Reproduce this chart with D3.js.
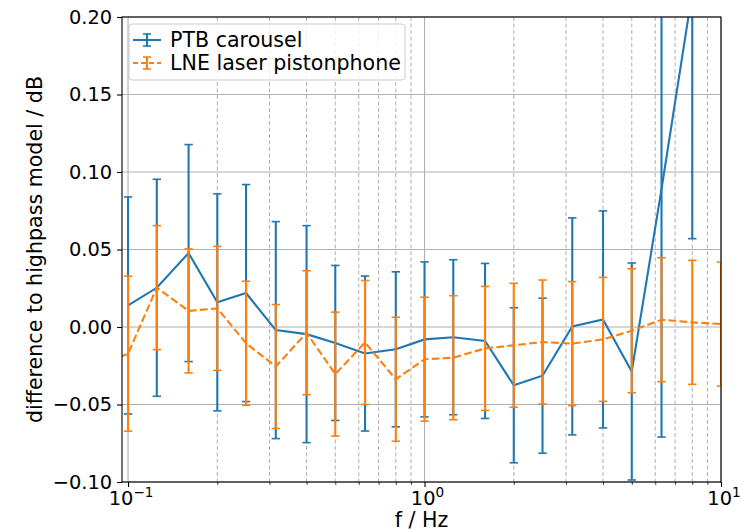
<!doctype html>
<html lang="en">
<head>
  <meta charset="utf-8">
  <script src="https://cdnjs.cloudflare.com/ajax/libs/d3/7.8.5/d3.min.js"></script>
  <style>
    html, body{margin:0px; padding:0px; background:#fff;}
    svg{font-family:"DejaVu Sans", sans-serif;}
  </style>
</head>
<body>
<div id="view"></div>
<script>
// frequencies in Hz (third octaves)
var ptbFreqs  = [0.1,0.125,0.16,0.2,0.25,0.315,0.4,0.5,0.63,0.8,1,1.25,1.6,2,2.5,3.15,4,5,6.3,8];
var ptbValues = [0.0139,0.0253,0.0477,0.0159,0.0219,-0.0020,-0.0046,-0.0103,-0.0171,-0.0144,
                 -0.0080,-0.0066,-0.0090,-0.0376,-0.0314,0.0004,0.0049,-0.0287,0.089,0.216];
var ptbErrors = [0.07,0.07,0.07,0.07,0.07,0.07,0.07,0.05,0.05,0.05,
                 0.05,0.05,0.05,0.05,0.05,0.07,0.07,0.07,0.16,0.159];

var lneFreqs  = [0.08,0.1,0.125,0.16,0.2,0.25,0.315,0.4,0.5,0.63,0.8,1,1.25,1.6,2,2.5,3.15,4,5,6.3,8,10];
var lneValues = [-0.025,-0.0172,0.0254,0.0104,0.0120,-0.0105,-0.0255,-0.0037,-0.0304,-0.0100,-0.0337,
                 -0.0208,-0.0198,-0.0138,-0.0118,-0.0097,-0.0107,-0.0080,-0.0024,0.0047,0.0030,0.0019];
var lneErrors = [0.05,0.05,0.04,0.04,0.04,0.04,0.04,0.04,0.04,0.04,0.04,
                 0.04,0.04,0.04,0.04,0.04,0.04,0.04,0.04,0.04,0.04,0.04];

var yTicks = [-0.10,-0.05,0.00,0.05,0.10,0.15,0.20];
var xMajor = [0.1,1,10];
var xMinor = [0.2,0.3,0.4,0.5,0.6,0.7,0.8,0.9,2,3,4,5,6,7,8,9];

var series = [
  {name:"PTB carousel", color:"#1f77b4", dash:null, f:ptbFreqs, v:ptbValues, e:ptbErrors},
  {name:"LNE laser pistonphone", color:"#ff7f0e", dash:"7.7,3.3", f:lneFreqs, v:lneValues, e:lneErrors}
];

(function(){
  var W = 741, H = 532, FS = 19.4, LFS = 20.6;
  var mL = 122, mR = 721, mT = 17, mB = 482;

  var svg = d3.select("#view").append("svg").attr("width", W).attr("height", H);

  var x = d3.scaleLog().domain([0.0954, 10]).range([mL, mR]);
  var y = d3.scaleLinear().domain([-0.1, 0.2]).range([mB, mT]);

  // grid
  var grid = svg.append("g");
  grid.selectAll("line.minor").data(xMinor).enter().append("line")
      .attr("x1", function(d){return x(d);}).attr("x2", function(d){return x(d);})
      .attr("y1", mT).attr("y2", mB)
      .attr("stroke", "#b0b0b0").attr("stroke-width", 1).attr("stroke-dasharray", "4,2.5");
  grid.selectAll("line.xmaj").data(xMajor).enter().append("line")
      .attr("x1", function(d){return x(d);}).attr("x2", function(d){return x(d);})
      .attr("y1", mT).attr("y2", mB)
      .attr("stroke", "#b0b0b0").attr("stroke-width", 1.1);
  grid.selectAll("line.ymaj").data(yTicks).enter().append("line")
      .attr("x1", mL).attr("x2", mR)
      .attr("y1", function(d){return y(d);}).attr("y2", function(d){return y(d);})
      .attr("stroke", "#b0b0b0").attr("stroke-width", 1.1);

  svg.append("clipPath").attr("id", "clip").append("rect")
      .attr("x", mL).attr("y", mT).attr("width", mR - mL).attr("height", mB - mT);

  var plot = svg.append("g").attr("clip-path", "url(#clip)");

  series.forEach(function(s){
    var pts = s.f.map(function(f, i){return {f:f, v:s.v[i], e:s.e[i]};});
    var g = plot.append("g");
    g.append("path").datum(pts)
      .attr("fill", "none").attr("stroke", s.color).attr("stroke-width", 2.1)
      .attr("stroke-dasharray", s.dash)
      .attr("d", d3.line().x(function(d){return x(d.f);}).y(function(d){return y(d.v);}));
    var eb = g.selectAll("g.eb").data(pts).enter().append("g")
      .attr("stroke", s.color).attr("stroke-width", 2.1);
    eb.append("line")
      .attr("x1", function(d){return x(d.f);}).attr("x2", function(d){return x(d.f);})
      .attr("y1", function(d){return y(d.v - d.e);}).attr("y2", function(d){return y(d.v + d.e);});
    [1, -1].forEach(function(sg){
      eb.append("line")
        .attr("x1", function(d){return x(d.f) - 4.2;}).attr("x2", function(d){return x(d.f) + 4.2;})
        .attr("y1", function(d){return y(d.v + sg * d.e);}).attr("y2", function(d){return y(d.v + sg * d.e);})
        .attr("stroke-width", 1.6);
    });
  });

  // axes
  var yAxis = d3.axisLeft(y).tickValues(yTicks).tickSize(4.9).tickPadding(4.9)
      .tickFormat(function(d){return d3.format(".2f")(d).replace("-", "\u2212");});
  var ga = svg.append("g").attr("transform", "translate(" + mL + ",0)").call(yAxis);
  ga.select(".domain").remove();
  ga.selectAll("text").attr("font-size", FS).attr("fill", "#000").attr("font-family", "DejaVu Sans");
  ga.selectAll("line").attr("stroke", "#000").attr("stroke-width", 1.1);

  var xAxis = d3.axisBottom(x).tickValues(xMajor).tickSize(4.9).tickFormat("");
  var gx = svg.append("g").attr("transform", "translate(0," + mB + ")").call(xAxis);
  gx.select(".domain").remove();
  gx.selectAll("line").attr("stroke", "#000").attr("stroke-width", 1.1);
  var xMinorAxis = d3.axisBottom(x).tickValues(xMinor).tickSize(2.8).tickFormat("");
  var gxm = svg.append("g").attr("transform", "translate(0," + mB + ")").call(xMinorAxis);
  gxm.select(".domain").remove();
  gxm.selectAll("line").attr("stroke", "#000").attr("stroke-width", 0.8);

  var expo = {0.1:"\u22121", 1:"0", 10:"1"};
  var xl = svg.append("g").selectAll("text").data(xMajor).enter().append("text")
      .attr("x", function(d){return x(d) + 3;}).attr("y", 505)
      .attr("text-anchor", "middle").attr("font-size", FS).attr("fill", "#000");
  xl.append("tspan").text("10");
  xl.append("tspan").attr("dy", -8).attr("font-size", 13.6).text(function(d){return expo[d];});

  // frame
  svg.append("rect").attr("x", mL).attr("y", mT).attr("width", mR - mL).attr("height", mB - mT)
      .attr("fill", "none").attr("stroke", "#000").attr("stroke-width", 1.1);

  // labels
  svg.append("text").attr("x", (mL + mR) / 2).attr("y", 527)
      .attr("text-anchor", "middle").attr("font-size", LFS).text("f / Hz");
  svg.append("text").attr("transform", "translate(42," + ((mT + mB) / 2) + ") rotate(-90)")
      .attr("text-anchor", "middle").attr("font-size", LFS).text("difference to highpass model / dB");

  // legend
  var lg = svg.append("g").attr("transform", "translate(129,24)");
  lg.append("rect").attr("width", 276).attr("height", 56).attr("rx", 3)
      .attr("fill", "#fff").attr("fill-opacity", 0.8).attr("stroke", "#cccccc");
  series.forEach(function(s, i){
    var row = lg.append("g").attr("transform", "translate(0," + (16 + i * 23) + ")");
    row.append("line").attr("x1", 4).attr("x2", 32).attr("y1", 0).attr("y2", 0)
      .attr("stroke", s.color).attr("stroke-width", 2.1).attr("stroke-dasharray", s.dash ? "5,3" : null);
    row.append("line").attr("x1", 18).attr("x2", 18).attr("y1", -6).attr("y2", 6)
      .attr("stroke", s.color).attr("stroke-width", 2.1);
    [-6, 6].forEach(function(cy){
      row.append("line").attr("x1", 14).attr("x2", 22).attr("y1", cy).attr("y2", cy)
        .attr("stroke", s.color).attr("stroke-width", 1.6);
    });
    row.append("text").attr("x", 41).attr("y", 7).attr("font-size", LFS).text(s.name);
  });
})();
</script>
</body>
</html>
